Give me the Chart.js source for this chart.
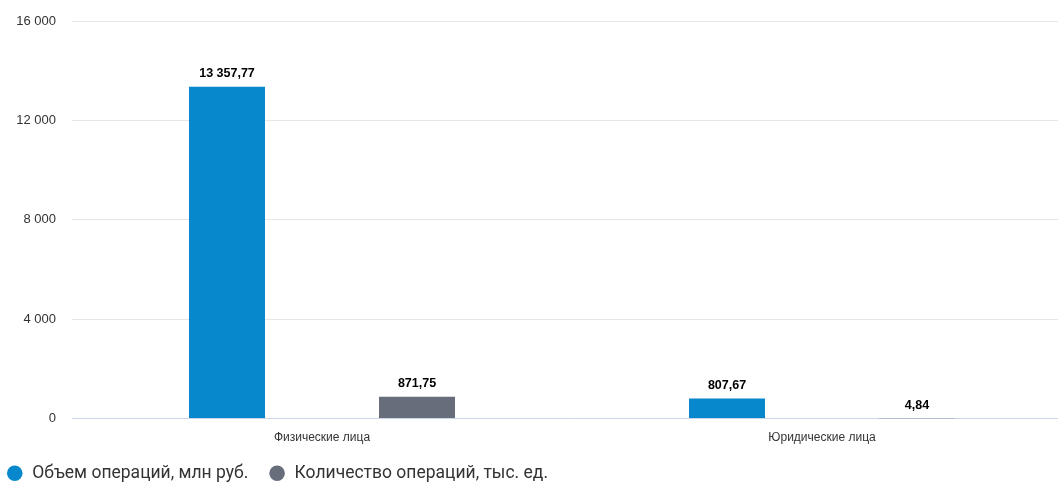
<!DOCTYPE html>
<html>
<head>
<meta charset="utf-8">
<script src="https://cdn.jsdelivr.net/npm/chart.js@4"></script>
<style>
  html, body { margin: 0; padding: 0; background: #fff; overflow: hidden; }
  #wrap { position: relative; width: 1076px; height: 492px; }
</style>
</head>
<body>
<div id="wrap"><canvas id="myChart"></canvas></div>
<script>
var categories = ['Физические лица', 'Юридические лица'];
var volume = [13357.77, 807.67];
var count = [871.75, 4.84];
var seriesNames = ['Объем операций, млн руб.', 'Количество операций, тыс. ед.'];
var yTicks = [0, 4000, 8000, 12000, 16000];

function fmt(v, digits) {
  var parts = v.toFixed(digits).split('.');
  parts[0] = parts[0].replace(/\B(?=(\d{3})+(?!\d))/g, ' ');
  return parts.join(',');
}

// value labels over each bar, outlined in white
var barLabels = {
  id: 'barLabels',
  afterDatasetsDraw: function(chart) {
    var c = chart.ctx;
    c.save();
    c.font = 'bold 12.5px "Liberation Sans", Arial, sans-serif';
    c.textAlign = 'center';
    c.textBaseline = 'bottom';
    c.lineJoin = 'round';
    chart.data.datasets.forEach(function(ds, i) {
      chart.getDatasetMeta(i).data.forEach(function(bar, j) {
        var txt = fmt(ds.data[j], 2);
        c.lineWidth = 3;
        c.strokeStyle = '#ffffff';
        c.strokeText(txt, bar.x, bar.y - 7);
        c.fillStyle = '#000000';
        c.fillText(txt, bar.x, bar.y - 7);
      });
    });
    c.restore();
  }
};

new Chart(document.getElementById('myChart'), {
  type: 'bar',
  data: {
    labels: categories,
    datasets: [
      {
        label: seriesNames[0],
        data: volume,
        backgroundColor: '#0788cc',
        categoryPercentage: 0.76,
        barPercentage: 0.4
      },
      {
        label: seriesNames[1],
        data: count,
        backgroundColor: '#686d7c',
        categoryPercentage: 0.76,
        barPercentage: 0.4
      }
    ]
  },
  options: {
    responsive: true,
    maintainAspectRatio: false,
    animation: false,
    // negative left padding pulls the legend to the edge; the y axis width is fixed below
    layout: { padding: { top: 21, right: 4, left: -14, bottom: 0 } },
    scales: {
      x: {
        grid: { display: false, drawTicks: false },
        border: { display: true, color: '#ccd6eb', width: 1 },
        afterFit: function(scale) { scale.height = 26; },
        ticks: {
          padding: 12,
          color: '#333333',
          font: { size: 12, family: '"Liberation Sans", Arial, sans-serif' }
        }
      },
      y: {
        min: 0,
        max: 16000,
        afterBuildTicks: function(axis) {
          axis.ticks = yTicks.map(function(v) { return { value: v }; });
        },
        afterFit: function(scale) {
          scale.width = 86;
          scale.paddingTop = 0;
        },
        grid: { color: '#e6e6e6', drawTicks: false },
        border: { display: false },
        ticks: {
          padding: 16,
          color: '#333333',
          font: { size: 13, family: '"Liberation Sans", Arial, sans-serif' },
          callback: function(v) { return fmt(v, 0); }
        }
      }
    },
    plugins: {
      tooltip: { enabled: false },
      legend: {
        position: 'bottom',
        align: 'start',
        labels: {
          usePointStyle: true,
          pointStyle: 'circle',
          boxWidth: 17.5,
          boxHeight: 11,
          padding: 20,
          color: '#333333',
          font: { size: 17.5, family: 'Roboto, sans-serif' }
        }
      }
    }
  },
  plugins: [barLabels]
});
</script>
</body>
</html>
